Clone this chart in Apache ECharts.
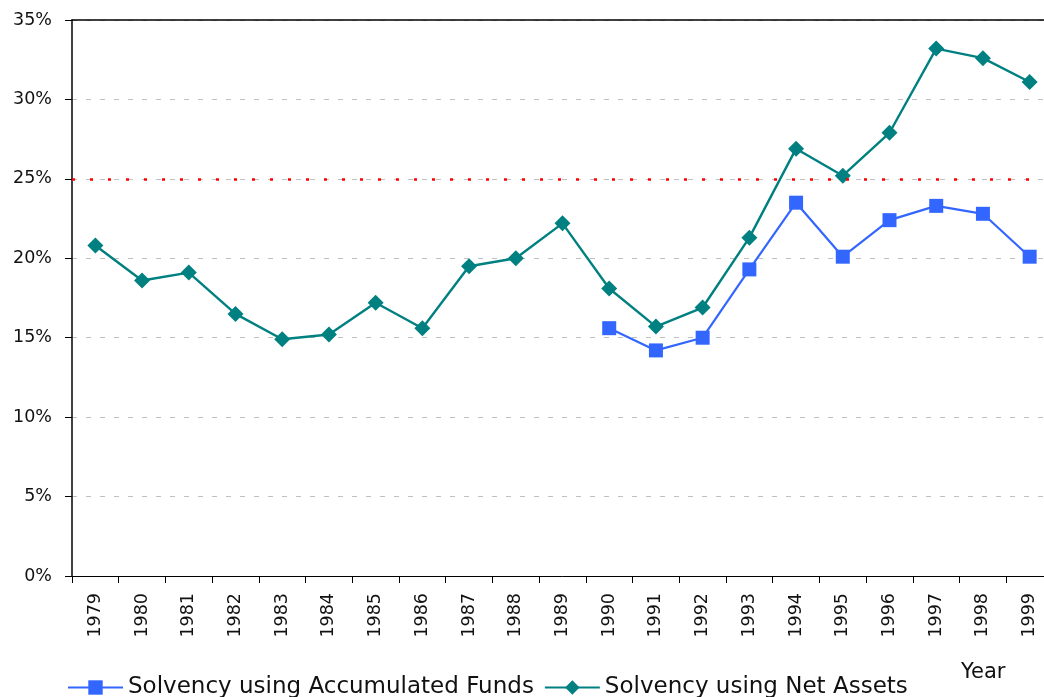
<!DOCTYPE html>
<html>
<head>
<meta charset="utf-8">
<script src="https://cdn.jsdelivr.net/npm/echarts@6/dist/echarts.min.js"></script>
<style>
  html, body { margin: 0; padding: 0; background: #fff; overflow: hidden; width: 1044px; height: 697px; }
  /* the plot runs a little past the right edge of the page */
  #chart { width: 1053px; height: 697px; }
</style>
</head>
<body>
<div id="chart"></div>
<script>
// Solvency ratios by year (percent)
const years = ['1979','1980','1981','1982','1983','1984','1985','1986','1987','1988','1989',
               '1990','1991','1992','1993','1994','1995','1996','1997','1998','1999'];
const accumulatedFunds = [null,null,null,null,null,null,null,null,null,null,null,
               15.6,14.2,15.0,19.3,23.5,20.1,22.4,23.3,22.8,20.1];
const netAssets = [20.8,18.6,19.1,16.5,14.9,15.2,17.2,15.6,19.5,20.0,22.2,
               18.1,15.7,16.9,21.3,26.9,25.2,27.9,33.2,32.6,31.1];
const thresholdLevel = 25;
const yTicks = { min: 0, max: 35, interval: 5 };

const FONT = 'DejaVu Sans';
const chart = echarts.init(document.getElementById('chart'), null, { renderer: 'canvas' });

chart.setOption({
  animation: false,
  backgroundColor: '#ffffff',
  title: {
    text: 'Year',
    left: 956,
    top: 657,
    textStyle: { fontFamily: FONT, fontSize: 21, fontWeight: 'normal', color: '#111' }
  },
  legend: {
    left: 62,
    top: 671,
    itemWidth: 55,
    itemHeight: 18,
    itemGap: 10,
    textStyle: { fontFamily: FONT, fontSize: 23, color: '#111' },
    data: ['Solvency using Accumulated Funds', 'Solvency using Net Assets']
  },
  grid: {
    left: 72, top: 20, right: 0, bottom: 121,
    show: false
  },
  xAxis: [
    {
      type: 'category',
      data: years,
      boundaryGap: true,
      axisLine: { lineStyle: { color: '#000', width: 1 } },
      axisTick: { show: true, alignWithLabel: false, length: 7, lineStyle: { color: '#000' } },
      axisLabel: { rotate: 90, margin: 17, fontFamily: FONT, fontSize: 17.5, color: '#111', interval: 0 },
      splitLine: { show: false }
    },
    {
      // plain frame line along the top of the plot area
      type: 'category',
      data: years,
      position: 'top',
      axisLine: { show: true, lineStyle: { color: '#000', width: 1.5 } },
      axisTick: { show: false },
      axisLabel: { show: false },
      splitLine: { show: false }
    }
  ],
  yAxis: {
    type: 'value',
    min: yTicks.min, max: yTicks.max, interval: yTicks.interval,
    axisLine: { show: true, lineStyle: { color: '#000', width: 1.5 } },
    axisTick: { show: true, length: 7, lineStyle: { color: '#000' } },
    axisLabel: { formatter: '{value}%', margin: 20, fontFamily: FONT, fontSize: 17.5, color: '#111' },
    splitLine: { show: true, lineStyle: { color: '#c0c0c0', width: 1, type: [5, 9] } }
  },
  series: [
    {
      name: 'Solvency using Accumulated Funds',
      type: 'line',
      data: accumulatedFunds,
      symbol: 'rect',
      symbolSize: 14,
      connectNulls: false,
      lineStyle: { color: '#3366ff', width: 2.2 },
      itemStyle: { color: '#3366ff' },
      z: 3
    },
    {
      name: 'Solvency using Net Assets',
      type: 'line',
      data: netAssets,
      symbol: 'diamond',
      symbolSize: 16,
      lineStyle: { color: '#008080', width: 2.4 },
      itemStyle: { color: '#008080' },
      z: 2,
      markLine: {
        silent: true,
        symbol: 'none',
        label: { show: false },
        lineStyle: { color: '#ff0000', width: 2.5, type: [3, 15] },
        data: [{ yAxis: thresholdLevel }]
      }
    }
  ]
});
</script>
</body>
</html>
